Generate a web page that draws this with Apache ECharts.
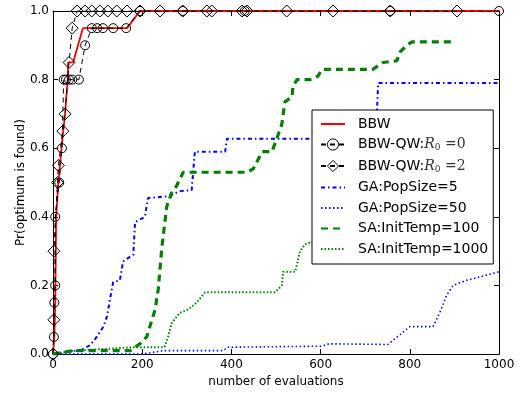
<!DOCTYPE html>
<html>
<head>
<meta charset="utf-8">
<script src="https://cdn.jsdelivr.net/npm/echarts@6/dist/echarts.min.js"></script>
<style>
  html, body { margin: 0; padding: 0; background: #fff; }
  #chart { width: 520px; height: 393px; }
</style>
</head>
<body>
<div id="chart"></div>
<script>
// [evaluations, probability]
const bbw = [[0,0],[3,0.05],[5,0.15],[7,0.4],[12,0.5],[19,0.6],[27,0.7],[33,0.8],[34,0.85],[45,0.85],[67,0.95],[166,0.95],[195,1],[1000,1]];
const qwR0 = [[0,0],[2,0.05],[3,0.15],[5,0.2],[5,0.4],[14,0.5],[20,0.6],[24,0.8],[29,0.8],[36,0.8],[43,0.8],[58,0.8],[72,0.9],[87,0.95],[99,0.95],[112,0.95],[135,0.95],[164,0.95],[195,1],[291,1],[430,1],[756,1],[1000,1]];
const qwR2 = [[0,0],[2,0.1],[2,0.3],[10,0.5],[12,0.55],[22,0.65],[27,0.7],[36,0.85],[43,0.95],[54,1],[72,1],[87,1],[105,1],[123,1],[143,1],[166,1],[195,1],[240,1],[291,1],[345,1],[356,1],[424,1],[435,1],[524,1],[628,1],[756,1],[906,1]];
const gaPop5 = [[0,0],[45,0.01],[61,0.01],[83,0.026],[98,0.05],[113,0.08],[121,0.11],[132,0.19],[135,0.21],[150,0.215],[157,0.27],[180,0.29],[184,0.385],[206,0.4],[213,0.455],[258,0.46],[285,0.475],[311,0.478],[318,0.59],[386,0.59],[390,0.628],[724,0.628],[729,0.79],[1000,0.79]];
const gaPop50 = [[0,0],[200,0],[247,0.01],[381,0.01],[392,0.02],[600,0.023],[620,0.03],[751,0.028],[778,0.057],[800,0.08],[852,0.08],[867,0.12],[882,0.17],[897,0.2],[927,0.215],[957,0.225],[1000,0.24]];
const saTemp100 = [[0,0],[45,0.01],[173,0.01],[195,0.03],[210,0.05],[229,0.13],[236,0.19],[244,0.31],[255,0.43],[266,0.47],[277,0.49],[292,0.53],[435,0.53],[449,0.54],[469,0.59],[491,0.59],[505,0.64],[513,0.67],[520,0.735],[536,0.75],[538,0.78],[547,0.8],[576,0.8],[594,0.81],[603,0.83],[717,0.83],[740,0.85],[771,0.855],[778,0.88],[793,0.9],[805,0.91],[900,0.91]];
const saTemp1000 = [[0,0],[50,0.01],[180,0.02],[250,0.02],[258,0.05],[266,0.09],[284,0.12],[303,0.13],[322,0.15],[341,0.18],[498,0.18],[513,0.2],[516,0.24],[543,0.24],[554,0.3],[565,0.32],[590,0.33],[700,0.35]];

const xTicks = [0, 200, 400, 600, 800, 1000];
const yTicks = [0, 0.2, 0.4, 0.6, 0.8, 1.0];

const font = 'DejaVu Sans';
const legendText = {
  'BBW-QW:R0=0': 'BBW-QW:{r|R}{s|0}{m| =0}',
  'BBW-QW:R0=2': 'BBW-QW:{r|R}{s|0}{m| =2}'
};
// series drawn without markers: hide the marker in their legend icon
const hidden = { color: 'rgba(0,0,0,0)', borderWidth: 0 };

const chart = echarts.init(document.getElementById('chart'));

const frameAxis = (pos) => ({
  position: pos,
  axisLine: { show: true, onZero: false, lineStyle: { color: '#000', width: 1 } },
  axisTick: { show: true, inside: true, length: 5, lineStyle: { color: '#000' } },
  splitLine: { show: false }
});

chart.setOption({
  animation: false,
  backgroundColor: '#fff',
  grid: { left: 53, right: 21, top: 11, bottom: 35 },
  xAxis: [
    Object.assign(frameAxis('bottom'), {
      type: 'value', min: xTicks[0], max: xTicks[xTicks.length - 1], interval: 200,
      name: 'number of evaluations', nameLocation: 'middle', nameGap: 18,
      nameTextStyle: { fontFamily: font, fontSize: 12, color: '#000' },
      axisLabel: { fontFamily: font, fontSize: 12, color: '#000', margin: 5,
        formatter: v => String(v) }
    }),
    Object.assign(frameAxis('top'), {
      type: 'value', min: 0, max: 1000, interval: 200, axisLabel: { show: false }
    })
  ],
  yAxis: [
    Object.assign(frameAxis('left'), {
      type: 'value', min: yTicks[0], max: yTicks[yTicks.length - 1], interval: 0.2,
      name: 'Pr(optimum is found)', nameLocation: 'middle', nameGap: 26,
      nameMoveOverlap: false,
      nameTextStyle: { fontFamily: font, fontSize: 12, color: '#000' },
      axisLabel: { fontFamily: font, fontSize: 12, color: '#000', margin: 4,
        formatter: v => v.toFixed(1) }
    }),
    Object.assign(frameAxis('right'), {
      type: 'value', min: 0, max: 1, interval: 0.2, axisLabel: { show: false }
    })
  ],
  legend: {
    orient: 'vertical',
    left: 312, top: 110,
    padding: [7, 5, 8, 8],
    itemGap: 6.5,
    itemWidth: 24,
    itemHeight: 14,
    backgroundColor: '#fff',
    borderColor: '#000',
    borderWidth: 1,
    borderRadius: 0,
    data: [
      { name: 'BBW', itemStyle: hidden },
      { name: 'BBW-QW:R0=0', itemStyle: { color: 'rgba(0,0,0,0)', borderColor: '#000', borderWidth: 1 } },
      { name: 'BBW-QW:R0=2', itemStyle: { color: 'rgba(0,0,0,0)', borderColor: '#000', borderWidth: 1 } },
      { name: 'GA:PopSize=5', itemStyle: hidden },
      { name: 'GA:PopSize=50', itemStyle: hidden },
      { name: 'SA:InitTemp=100', itemStyle: hidden },
      { name: 'SA:InitTemp=1000', itemStyle: hidden }
    ],
    formatter: name => legendText[name] || name,
    textStyle: {
      fontFamily: font, fontSize: 14, color: '#000', padding: [0, 0, 0, 8],
      rich: {
        r: { fontFamily: 'DejaVu Serif', fontStyle: 'italic', fontSize: 14, color: '#333' },
        s: { fontFamily: 'DejaVu Serif', fontSize: 9, color: '#333', padding: [7, 0, 0, 0] },
        m: { fontFamily: 'DejaVu Serif', fontSize: 14, color: '#333' }
      }
    }
  },
  series: [
    { name: 'BBW', type: 'line', data: bbw, symbol: 'none',
      lineStyle: { color: '#ff0000', width: 1.8 }, itemStyle: { color: '#ff0000' } },
    { name: 'BBW-QW:R0=0', type: 'line', data: qwR0, symbol: 'circle', symbolSize: 9,
      lineStyle: { color: '#000', width: 1, type: [5, 4] },
      itemStyle: { color: 'rgba(0,0,0,0)', borderColor: '#000', borderWidth: 1 } },
    { name: 'BBW-QW:R0=2', type: 'line', data: qwR2, symbol: 'diamond', symbolSize: 12,
      lineStyle: { color: '#000', width: 1, type: [5, 4] },
      itemStyle: { color: 'rgba(0,0,0,0)', borderColor: '#000', borderWidth: 1 } },
    { name: 'GA:PopSize=5', type: 'line', data: gaPop5, symbol: 'none',
      lineStyle: { color: '#0000ff', width: 2, type: [4, 3, 1.5, 3] }, itemStyle: { color: '#0000ff' } },
    { name: 'GA:PopSize=50', type: 'line', data: gaPop50, symbol: 'none',
      lineStyle: { color: '#0000ff', width: 1.6, type: [1.5, 2.5] }, itemStyle: { color: '#0000ff' } },
    { name: 'SA:InitTemp=100', type: 'line', data: saTemp100, symbol: 'none',
      lineStyle: { color: '#008000', width: 3.2, type: [7, 5] }, itemStyle: { color: '#008000' } },
    { name: 'SA:InitTemp=1000', type: 'line', data: saTemp1000, symbol: 'none',
      lineStyle: { color: '#008000', width: 2, type: [1.5, 2] }, itemStyle: { color: '#008000' } }
  ]
});
</script>
</body>
</html>
